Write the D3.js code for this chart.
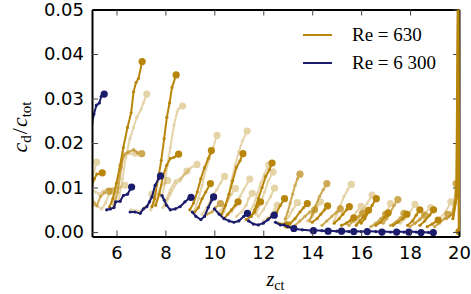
<!DOCTYPE html>
<html>
<head>
<meta charset="utf-8">
<script src="https://cdn.jsdelivr.net/npm/d3@7"></script>
<style>
  body { margin: 0; background: #fff; }
  .axis text { font-family: "DejaVu Sans", sans-serif; font-size: 18px; fill: #000; }
  .axis .tick line { stroke: #444; stroke-width: 1; }
  .axis .domain { stroke: #000; stroke-width: 2; }
  .math { font-family: "Liberation Serif", "DejaVu Serif", serif; }
</style>
</head>
<body>
<div id="chart-area"></div>
<script>
var width = 471, height = 294;
var plot = { left: 92, right: 459, top: 9.5, bottom: 236.5 };

// ticks
var xTicks = [6, 8, 10, 12, 14, 16, 18, 20];
var yTicks = [0, 0.01, 0.02, 0.03, 0.04, 0.05];
var legendLabels = ['Re = 630', 'Re = 6 300'];

// Re = 630, light runs  [z_ct, c_d/c_tot]
var re630Light = [
  [[5.0,0.0125],[5.08,0.0135],[5.19,0.0157]],
  [[5.0,0.0095],[5.15,0.009],[5.3,0.0085],[5.45,0.0092],[5.6,0.0095],[5.9,0.0098],[6.1,0.0099],[6.35,0.0105]],
  [[5.05,0.006],[5.2,0.0058],[5.4,0.0052],[5.55,0.0065],[5.7,0.0085],[5.85,0.0092]],
  [[6.1,0.0075],[6.25,0.012],[6.38,0.0168],[6.55,0.021],[6.7,0.0235],[6.83,0.0258],[7.0,0.0275],[7.1,0.029],[7.24,0.031]],
  [[5.85,0.0065],[6.0,0.01],[6.15,0.014],[6.28,0.017],[6.5,0.0176],[6.76,0.0177]],
  [[7.86,0.0079],[7.98,0.011],[8.08,0.015],[8.2,0.019],[8.35,0.024],[8.48,0.027],[8.54,0.0277],[8.7,0.0283]],
  [[7.4,0.005],[7.55,0.0065],[7.7,0.009],[7.85,0.0105],[8.09,0.0116]],
  [[7.9,0.0055],[8.05,0.0075],[8.2,0.0095],[8.4,0.0115],[8.6,0.012],[8.88,0.0137]],
  [[8.0,0.006],[8.2,0.0085],[8.45,0.011],[8.6,0.0115],[8.8,0.013],[9.05,0.0145],[9.29,0.0152]],
  [[6.6,0.005],[6.8,0.0048],[7.0,0.0047],[7.15,0.0055],[7.3,0.0062],[7.45,0.0085]],
  [[9.2,0.005],[9.35,0.0075],[9.5,0.0105],[9.65,0.014],[9.8,0.0165],[9.95,0.019],[10.11,0.0217]],
  [[9.5,0.004],[9.7,0.0055],[9.9,0.008],[10.1,0.0095],[10.25,0.011],[10.42,0.0125]],
  [[10.4,0.0045],[10.55,0.0075],[10.7,0.0115],[10.85,0.015],[11.0,0.018],[11.15,0.0205],[11.34,0.0227]],
  [[10.2,0.0045],[10.4,0.0058],[10.55,0.007],[10.7,0.0085],[10.86,0.0098]],
  [[10.7,0.0045],[10.9,0.006],[11.05,0.008],[11.2,0.0095],[11.45,0.0119]],
  [[10.9,0.0035],[11.1,0.0045],[11.3,0.006],[11.4,0.0075],[11.55,0.0087]],
  [[11.4,0.004],[11.6,0.006],[11.75,0.0085],[11.9,0.011],[12.05,0.013],[12.23,0.0151]],
  [[11.7,0.004],[11.9,0.0065],[12.05,0.009],[12.2,0.0115],[12.4,0.0135]],
  [[11.8,0.0035],[12.0,0.005],[12.15,0.0065],[12.3,0.008],[12.46,0.0099]],
  [[12.0,0.0025],[12.2,0.003],[12.35,0.004],[12.45,0.005],[12.57,0.006]],
  [[12.9,0.0025],[13.05,0.0035],[13.2,0.005],[13.4,0.0066]],
  [[13.8,0.0025],[14.0,0.0035],[14.15,0.005],[14.34,0.0068]],
  [[14.9,0.0025],[15.0,0.004],[15.15,0.006],[15.3,0.008],[15.45,0.0095],[15.6,0.0107]],
  [[15.4,0.002],[15.6,0.003],[15.8,0.0045],[16.0,0.0058]],
  [[15.8,0.002],[15.95,0.0035],[16.1,0.005],[16.25,0.0065],[16.45,0.0083]],
  [[16.7,0.002],[16.9,0.003],[17.05,0.0045],[17.2,0.0064]],
  [[17.6,0.002],[17.8,0.003],[18.0,0.0045],[18.2,0.0062]],
  [[18.2,0.002],[18.4,0.003],[18.6,0.0042],[18.85,0.0055]],
  [[19.0,0.002],[19.2,0.003],[19.45,0.0045],[19.67,0.0068]]
];

// Re = 630, medium runs
var re630Mid = [
  [[5.0,0.0075],[5.1,0.0065],[5.2,0.006],[5.35,0.008],[5.5,0.0088],[5.7,0.0092]],
  [[5.9,0.006],[6.05,0.009],[6.2,0.0145],[6.3,0.0175],[6.5,0.018],[6.7,0.0185],[6.85,0.0178],[7.03,0.0176]],
  [[9.7,0.004],[9.9,0.0045],[10.05,0.0055],[10.25,0.0064]],
  [[12.9,0.003],[13.0,0.0045],[13.1,0.0065],[13.2,0.0085],[13.3,0.0105],[13.4,0.012],[13.5,0.013]],
  [[13.3,0.0015],[13.5,0.0025],[13.7,0.0035],[13.9,0.0045],[14.1,0.005]],
  [[13.9,0.0025],[14.0,0.004],[14.15,0.006],[14.3,0.008],[14.45,0.0095],[14.6,0.0109]],
  [[14.4,0.0015],[14.6,0.0025],[14.8,0.0035],[15.0,0.0045],[15.15,0.0052]],
  [[15.5,0.0015],[15.7,0.0025],[15.9,0.0035],[16.05,0.0042]],
  [[16.4,0.0012],[16.6,0.002],[16.8,0.003],[17.0,0.004]],
  [[16.9,0.002],[17.05,0.003],[17.2,0.0045],[17.35,0.006],[17.5,0.0073]],
  [[17.2,0.0015],[17.4,0.0022],[17.6,0.0032],[17.75,0.0042]],
  [[18.0,0.0012],[18.2,0.002],[18.4,0.0028],[18.6,0.0038]],
  [[19.0,0.0012],[19.2,0.002],[19.4,0.003],[19.55,0.004]],
  [[19.5,0.003],[19.7,0.004],[19.8,0.006],[19.88,0.0109]]
];

// Re = 630, dark runs
var re630Dark = [
  [[5.0,0.0105],[5.1,0.012],[5.2,0.013],[5.42,0.0133]],
  [[5.72,0.0057],[5.85,0.0075],[6.0,0.011],[6.15,0.015],[6.28,0.019],[6.45,0.0235],[6.6,0.0268],[6.7,0.0315],[6.8,0.0336],[6.9,0.0345],[7.05,0.0383]],
  [[7.45,0.0057],[7.55,0.0075],[7.72,0.0124],[7.83,0.0161],[7.95,0.021],[8.06,0.0258],[8.17,0.029],[8.27,0.0325],[8.44,0.0353]],
  [[7.6,0.006],[7.75,0.0085],[7.9,0.0125],[8.05,0.015],[8.2,0.0165],[8.35,0.0168],[8.54,0.0175]],
  [[9.0,0.005],[9.15,0.0065],[9.3,0.009],[9.45,0.012],[9.6,0.0145],[9.75,0.0165],[9.88,0.0183]],
  [[9.2,0.0045],[9.35,0.0055],[9.5,0.0075],[9.65,0.009],[9.84,0.0109]],
  [[10.3,0.004],[10.45,0.006],[10.6,0.0085],[10.75,0.0115],[10.9,0.0145],[11.05,0.016],[11.17,0.0176]],
  [[10.4,0.003],[10.55,0.004],[10.7,0.005],[10.85,0.006],[10.97,0.0068]],
  [[11.5,0.0035],[11.65,0.005],[11.8,0.0075],[11.95,0.01],[12.1,0.0125],[12.25,0.014],[12.36,0.0155]],
  [[11.3,0.0028],[11.5,0.0035],[11.65,0.0045],[11.75,0.0058],[11.89,0.0068]],
  [[12.2,0.003],[12.4,0.0035],[12.55,0.0045],[12.7,0.006],[12.87,0.0075]],
  [[12.6,0.002],[12.8,0.0018],[12.98,0.0016]],
  [[13.1,0.002],[13.3,0.003],[13.5,0.0045],[13.65,0.0055],[13.8,0.0064]],
  [[14.0,0.0022],[14.2,0.003],[14.35,0.004],[14.5,0.005],[14.63,0.0059]],
  [[14.9,0.002],[15.1,0.003],[15.25,0.004],[15.4,0.005],[15.52,0.0057]],
  [[15.2,0.0015],[15.4,0.002],[15.55,0.0025],[15.7,0.0032]],
  [[16.0,0.002],[16.15,0.003],[16.3,0.0045],[16.45,0.006],[16.62,0.0075]],
  [[15.8,0.0015],[15.95,0.0025],[16.1,0.0035],[16.3,0.0049]],
  [[16.6,0.0015],[16.8,0.0022],[16.95,0.0032],[17.1,0.0043]],
  [[17.3,0.0015],[17.5,0.0022],[17.7,0.003],[17.87,0.004]],
  [[17.9,0.0015],[18.1,0.0025],[18.25,0.0038],[18.4,0.005]],
  [[18.4,0.0015],[18.6,0.0025],[18.8,0.0038],[18.96,0.005]],
  [[18.7,0.0012],[18.9,0.0018],[19.15,0.0027]],
  [[19.75,0.003],[19.9,0.008],[19.97,0.06],[20.0,0.0001]]
];

// Re = 6 300
var re6300 = [
  [[5.0,0.0245],[5.08,0.0265],[5.18,0.0285],[5.3,0.029],[5.38,0.0305],[5.5,0.031]],
  [[5.6,0.005],[5.75,0.0052],[5.9,0.0055],[5.97,0.0068],[6.15,0.0069],[6.28,0.0082],[6.45,0.0085],[6.62,0.0101]],
  [[6.56,0.0045],[6.75,0.0045],[6.97,0.0042],[7.1,0.0052],[7.24,0.0057],[7.35,0.0068],[7.45,0.0079],[7.58,0.0105],[7.72,0.012],[7.8,0.0126]],
  [[7.86,0.0082],[7.95,0.0072],[8.05,0.006],[8.2,0.005],[8.4,0.0052],[8.6,0.0057],[8.8,0.0068],[8.95,0.0075],[9.05,0.0078]],
  [[9.1,0.0045],[9.25,0.0035],[9.45,0.0028],[9.6,0.0035],[9.75,0.0055],[9.9,0.0072],[9.97,0.0079]],
  [[10.0,0.0052],[10.2,0.004],[10.4,0.003],[10.6,0.0025],[10.8,0.0022],[11.0,0.0025],[11.2,0.0035],[11.35,0.0042]],
  [[11.4,0.0025],[11.6,0.0018],[11.8,0.0016],[12.0,0.002],[12.2,0.0028],[12.35,0.0035],[12.45,0.0038]],
  [[12.5,0.0022],[12.7,0.0016],[12.85,0.0016],[13.0,0.0012],[13.25,0.0008]],
  [[13.3,0.0007],[13.6,0.0005],[14.05,0.0003]],
  [[14.1,0.0004],[14.4,0.0003],[14.65,0.0002]],
  [[14.7,0.0003],[15.0,0.0002],[15.2,0.0002]],
  [[15.25,0.0002],[15.5,0.0001],[15.7,0.0001]],
  [[15.75,0.0002],[16.0,0.0001],[16.25,0.0001]],
  [[16.3,0.0002],[16.6,0.0001],[16.85,0.0]],
  [[16.9,0.0001],[17.2,0.0],[17.45,0.0]],
  [[17.5,0.0001],[17.75,0.0],[17.95,0.0]],
  [[18.0,0.0001],[18.25,0.0],[18.45,-0.0001]],
  [[18.5,0.0],[18.75,-0.0001],[18.95,-0.0001]]
];

var gold = '#b8860b', navy = '#1c1c6c';

var svg = d3.select('#chart-area').append('svg')
    .attr('width', width)
    .attr('height', height);

var x = d3.scaleLinear().domain([5, 20]).range([plot.left, plot.right]);
var y = d3.scaleLinear().domain([-0.001, 0.05]).range([plot.bottom, plot.top]);

svg.append('clipPath').attr('id', 'clip')
  .append('rect')
    .attr('x', plot.left).attr('y', plot.top)
    .attr('width', plot.right - plot.left + 1)
    .attr('height', plot.bottom - plot.top);

var line = d3.line()
  .x(function(d){ return x(d[0]); })
  .y(function(d){ return y(d[1]); });

var dataLayer = svg.append('g').attr('clip-path', 'url(#clip)');

function drawRuns(runs, color, opacity){
  runs.forEach(function(run){
    var g = dataLayer.append('g').attr('opacity', opacity);
    g.append('path')
      .attr('d', line(run))
      .attr('fill', 'none')
      .attr('stroke', color)
      .attr('stroke-width', 2)
      .attr('stroke-linejoin', 'round');
    g.selectAll('circle.pt')
      .data(run.slice(0, -1))
      .enter().append('circle')
        .attr('class', 'pt')
        .attr('cx', function(d){ return x(d[0]); })
        .attr('cy', function(d){ return y(d[1]); })
        .attr('r', 1.6)
        .attr('fill', color);
    var last = run[run.length - 1];
    g.append('circle')
      .attr('cx', x(last[0]))
      .attr('cy', y(last[1]))
      .attr('r', 3.6)
      .attr('fill', color);
  });
}

drawRuns(re630Light, gold, 0.35);
drawRuns(re630Mid, gold, 0.7);
drawRuns(re630Dark, gold, 1);
drawRuns(re6300, navy, 1);

// axes, ticks pointing inward
svg.append('g')
  .attr('class', 'axis')
  .attr('transform', 'translate(0,' + plot.bottom + ')')
  .call(d3.axisBottom(x).tickValues(xTicks).tickSize(-6).tickSizeOuter(0).tickPadding(10));

svg.append('g')
  .attr('class', 'axis')
  .attr('transform', 'translate(' + plot.left + ',0)')
  .call(d3.axisLeft(y).tickValues(yTicks).tickFormat(d3.format('.2f')).tickSize(-6).tickSizeOuter(0).tickPadding(8));

svg.append('g')
  .attr('class', 'axis')
  .attr('transform', 'translate(0,' + plot.top + ')')
  .call(d3.axisTop(x).tickValues(xTicks).tickFormat('').tickSize(-6).tickSizeOuter(0));

svg.append('g')
  .attr('class', 'axis')
  .attr('transform', 'translate(' + plot.right + ',0)')
  .call(d3.axisRight(y).tickValues(yTicks).tickFormat('').tickSize(-6).tickSizeOuter(0));

// spike at the right edge sits above the spine
svg.append('path')
  .attr('d', line(re630Dark[re630Dark.length - 1]))
  .attr('clip-path', 'url(#clip)')
  .attr('fill', 'none')
  .attr('stroke', gold)
  .attr('stroke-width', 2.5);

// axis labels
var yLabel = svg.append('text')
  .attr('class', 'math')
  .attr('transform', 'translate(27,127) rotate(-90)')
  .attr('text-anchor', 'middle')
  .attr('font-size', '22px');
yLabel.append('tspan').attr('font-style', 'italic').text('c');
yLabel.append('tspan').attr('font-size', '15px').attr('dy', 4).text('d');
yLabel.append('tspan').attr('dy', -4).attr('dx', 1).text('/');
yLabel.append('tspan').attr('font-style', 'italic').attr('dx', 1).text('c');
yLabel.append('tspan').attr('font-size', '15px').attr('dy', 4).text('tot');

var xLabel = svg.append('text')
  .attr('class', 'math')
  .attr('x', (plot.left + plot.right) / 2)
  .attr('y', 286)
  .attr('text-anchor', 'middle')
  .attr('font-size', '20px');
xLabel.append('tspan').attr('font-style', 'italic').text('z');
xLabel.append('tspan').attr('font-size', '14px').attr('dy', 4).text('ct');

// legend
var legend = svg.append('g').attr('transform', 'translate(303,35)');
[gold, navy].forEach(function(color, i){
  var row = legend.append('g').attr('transform', 'translate(0,' + i * 28 + ')');
  row.append('line')
    .attr('x1', 0).attr('x2', 29)
    .attr('stroke', color).attr('stroke-width', 2);
  row.append('text')
    .attr('class', 'math')
    .attr('x', 49)
    .attr('y', 6)
    .attr('font-size', '19px')
    .text(legendLabels[i]);
});
</script>
</body>
</html>
